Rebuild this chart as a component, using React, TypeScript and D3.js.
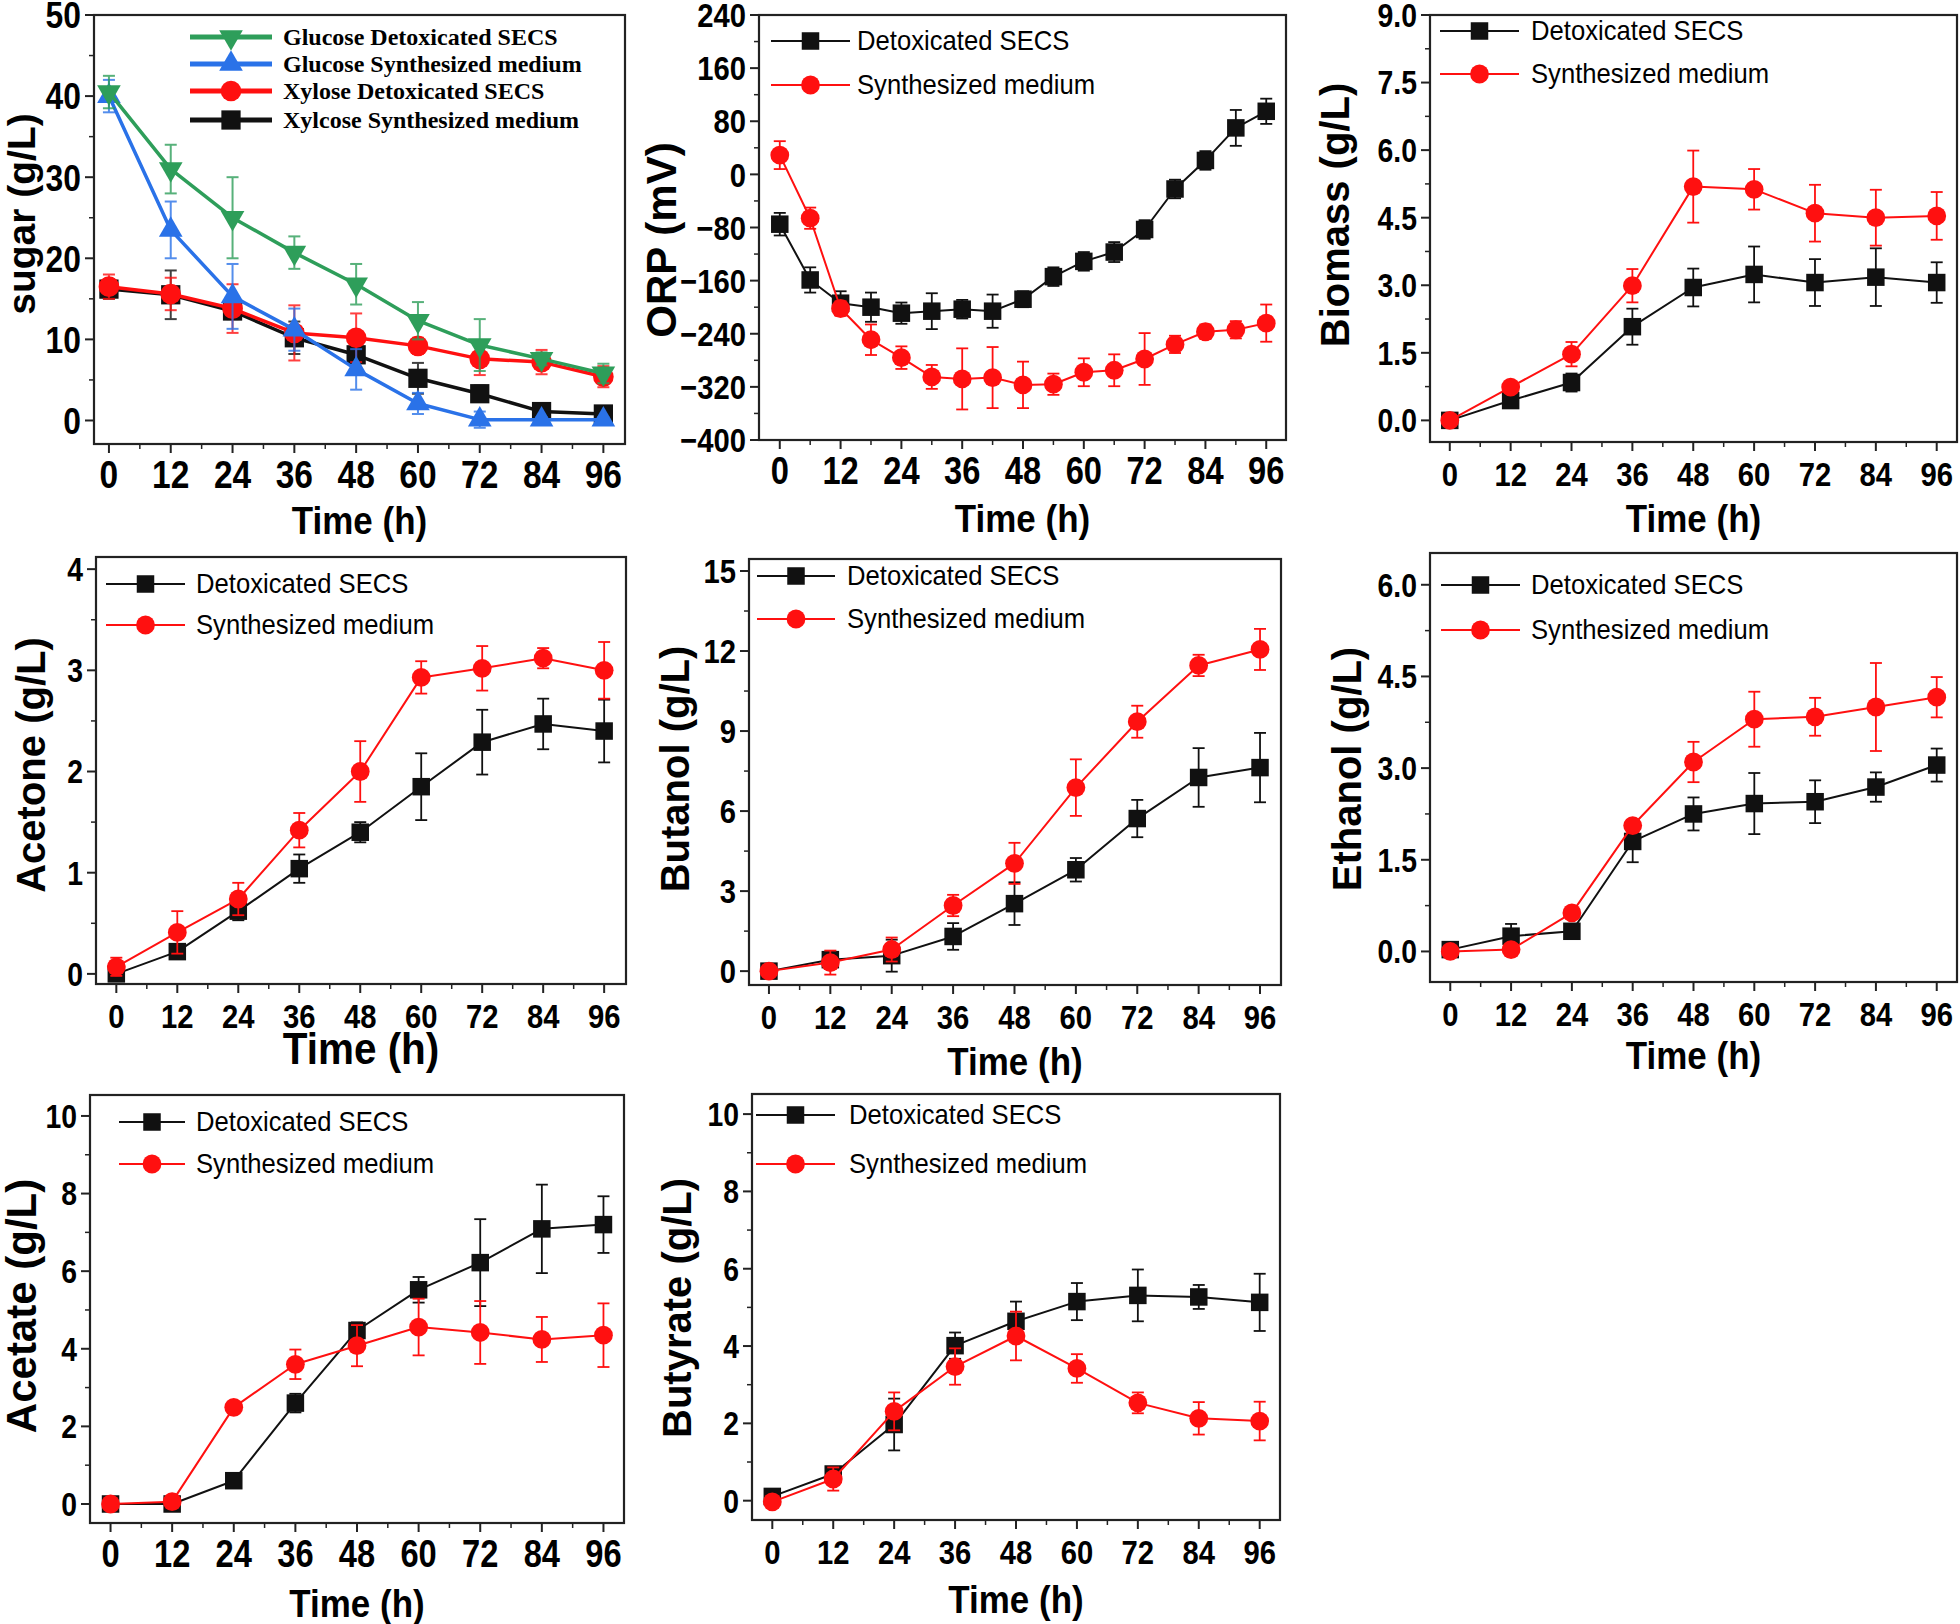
import React from 'react';
import * as d3 from 'd3';

// ---------------- DATA ----------------
const HOURS = [0, 12, 24, 36, 48, 60, 72, 84, 96];
const ORP_HOURS = [0, 6, 12, 18, 24, 30, 36, 42, 48, 54, 60, 66, 72, 78, 84, 90, 96];
const X_TICKS = [0, 12, 24, 36, 48, 60, 72, 84, 96];

const glucoseDetox = [40.5, 31, 25, 20.7, 16.8, 12.3, 9.3, 7.6, 5.8];
const glucoseDetoxErr = [2, 3, 5, 2, 2.5, 2.3, 3.2, 0.8, 1.2];
const glucoseSynth = [40, 23.5, 15.3, 11.2, 6.3, 2.1, 0.1, 0.1, 0.1];
const glucoseSynthErr = [2, 3.5, 4, 2.6, 2.5, 1.3, 1, 0.3, 0.3];
const xyloseDetox = [16.5, 15.6, 13.8, 10.8, 10.2, 9.2, 7.6, 7.2, 5.4];
const xyloseDetoxErr = [1.5, 2, 3, 3.4, 3, 1, 2, 1.5, 1.3];
const xyloseSynth = [16.2, 15.5, 13.5, 10.2, 8.1, 5.2, 3.3, 1.1, 0.8];
const xyloseSynthErr = [1.2, 3, 1, 2, 1, 1.9, 1, 0.9, 0.8];

const orpDetox = [-75, -159, -194, -200, -209, -206, -203, -206, -188, -154, -131, -117, -83, -22, 21, 70, 95];
const orpDetoxErr = [17, 19, 18, 22, 16, 27, 14, 25, 12, 14, 14, 15, 14, 14, 14, 27, 19];
const orpSynth = [29, -66, -202, -249, -276, -305, -308, -306, -317, -316, -298, -295, -278, -256, -237, -234, -224];
const orpSynthErr = [21, 16, 11, 23, 17, 18, 46, 46, 35, 16, 21, 24, 39, 13, 11, 13, 28];

const biomassDetox = [0, 0.44, 0.84, 2.08, 2.95, 3.24, 3.06, 3.18, 3.06];
const biomassDetoxErr = [0.05, 0.05, 0.2, 0.4, 0.42, 0.62, 0.52, 0.64, 0.45];
const biomassSynth = [0, 0.74, 1.47, 2.99, 5.19, 5.13, 4.6, 4.5, 4.54];
const biomassSynthErr = [0.05, 0.08, 0.27, 0.37, 0.8, 0.45, 0.63, 0.62, 0.53];

const acetoneDetox = [0, 0.22, 0.62, 1.04, 1.4, 1.85, 2.29, 2.47, 2.4];
const acetoneDetoxErr = [0.03, 0.03, 0.09, 0.14, 0.1, 0.33, 0.32, 0.25, 0.31];
const acetoneSynth = [0.07, 0.41, 0.74, 1.42, 2.0, 2.93, 3.02, 3.12, 3.0];
const acetoneSynthErr = [0.09, 0.21, 0.16, 0.17, 0.3, 0.16, 0.22, 0.1, 0.28];

const butanolDetox = [0, 0.43, 0.58, 1.3, 2.53, 3.8, 5.72, 7.26, 7.63];
const butanolDetoxErr = [0.1, 0.3, 0.6, 0.5, 0.8, 0.44, 0.7, 1.1, 1.3];
const butanolSynth = [0, 0.32, 0.81, 2.46, 4.04, 6.88, 9.35, 11.46, 12.06];
const butanolSynthErr = [0.1, 0.45, 0.45, 0.4, 0.77, 1.06, 0.6, 0.4, 0.77];

const ethanolDetox = [0.03, 0.25, 0.33, 1.8, 2.25, 2.42, 2.45, 2.69, 3.05];
const ethanolDetoxErr = [0.03, 0.2, 0.04, 0.34, 0.27, 0.5, 0.35, 0.24, 0.27];
const ethanolSynth = [0, 0.03, 0.63, 2.06, 3.1, 3.8, 3.84, 4.0, 4.16];
const ethanolSynthErr = [0.02, 0.02, 0.04, 0.08, 0.33, 0.45, 0.31, 0.72, 0.33];

const acetateDetox = [0, 0, 0.6, 2.6, 4.47, 5.52, 6.22, 7.09, 7.2];
const acetateDetoxErr = [0.03, 0.03, 0.03, 0.24, 0.21, 0.33, 1.12, 1.14, 0.73];
const acetateSynth = [0, 0.06, 2.49, 3.6, 4.08, 4.56, 4.42, 4.24, 4.35];
const acetateSynthErr = [0.03, 0.05, 0.03, 0.38, 0.53, 0.73, 0.81, 0.58, 0.82];

const butyrateDetox = [0.11, 0.69, 1.97, 4.01, 4.64, 5.15, 5.31, 5.27, 5.13];
const butyrateDetoxErr = [0.05, 0.1, 0.67, 0.34, 0.51, 0.48, 0.67, 0.31, 0.74];
const butyrateSynth = [-0.03, 0.56, 2.31, 3.47, 4.26, 3.42, 2.53, 2.13, 2.06];
const butyrateSynthErr = [0.05, 0.3, 0.49, 0.47, 0.63, 0.37, 0.27, 0.42, 0.5];

const SUGAR_TICKS = [0, 10, 20, 30, 40, 50];
const ORP_TICKS = [-400, -320, -240, -160, -80, 0, 80, 160, 240];
const BIOMASS_TICKS = [0, 1.5, 3, 4.5, 6, 7.5, 9];
const ACETONE_TICKS = [0, 1, 2, 3, 4];
const BUTANOL_TICKS = [0, 3, 6, 9, 12, 15];
const ETHANOL_TICKS = [0, 1.5, 3, 4.5, 6];
const ACID_TICKS = [0, 2, 4, 6, 8, 10];

const SUGAR_LEGEND = ['Glucose Detoxicated SECS', 'Glucose Synthesized medium', 'Xylose Detoxicated SECS', 'Xylcose Synthesized medium'];
const LEGEND = ['Detoxicated SECS', 'Synthesized medium'];

// ---------------- STYLE ----------------
const SANS = 'Arial, "Liberation Sans", Helvetica, sans-serif';
const SERIF = '"Times New Roman", "Liberation Serif", serif';
const RED = '#ff1010';
const BLACK = '#111111';
const GREEN = '#2e9e5a';
const BLUE = '#2a72e8';

type Marker = 'square' | 'circle' | 'up' | 'down';
interface Series { name: string; x: number[]; y: number[]; err: number[]; color: string; marker: Marker; }
interface PanelCfg {
  frame: [number, number, number, number];
  xDomain: [number, number];
  yDomain: [number, number];
  yTicks: number[];
  yMinor: number;
  yFmt: (v: number) => string;
  yTitle: string;
  yTitlePos: [number, number];
  yTitleSize: number;
  xTitleY: number;
  xTitleSize: number;
  tickSize: number;
  xTickSize: number;
  series: Series[];
  legend: { x1: number; x2: number; rows: number[]; tx: number; size: number; serif?: boolean; lw: number };
  lw: number;
  ms: number;
}

const f0 = d3.format('d');
const f1 = d3.format('.1f');

function two(xs: number[], d: number[], de: number[], s: number[], se: number[]): Series[] {
  return [
    { name: LEGEND[0], x: xs, y: d, err: de, color: BLACK, marker: 'square' },
    { name: LEGEND[1], x: xs, y: s, err: se, color: RED, marker: 'circle' },
  ];
}

const PANELS: PanelCfg[] = [
  {
    frame: [94, 15, 625, 444], xDomain: [-2.9, 100.2], yDomain: [-2.9, 50],
    yTicks: SUGAR_TICKS, yMinor: 5, yFmt: f0, yTitle: 'sugar (g/L)', yTitlePos: [35, 214], yTitleSize: 39,
    xTitleY: 534, xTitleSize: 38, tickSize: 37, xTickSize: 39, lw: 3.5, ms: 1.1,
    series: [
      { name: SUGAR_LEGEND[3], x: HOURS, y: xyloseSynth, err: xyloseSynthErr, color: BLACK, marker: 'square' },
      { name: SUGAR_LEGEND[2], x: HOURS, y: xyloseDetox, err: xyloseDetoxErr, color: RED, marker: 'circle' },
      { name: SUGAR_LEGEND[1], x: HOURS, y: glucoseSynth, err: glucoseSynthErr, color: BLUE, marker: 'up' },
      { name: SUGAR_LEGEND[0], x: HOURS, y: glucoseDetox, err: glucoseDetoxErr, color: GREEN, marker: 'down' },
    ],
    legend: { x1: 190, x2: 272, rows: [37, 64, 91, 120], tx: 283, size: 24, serif: true, lw: 5 },
  },
  {
    frame: [759, 15, 1286, 440], xDomain: [-4.1, 99.9], yDomain: [-400, 240],
    yTicks: ORP_TICKS, yMinor: 40, yFmt: f0, yTitle: 'ORP (mV)', yTitlePos: [676, 240], yTitleSize: 42,
    xTitleY: 532, xTitleSize: 38, tickSize: 34, xTickSize: 38, lw: 2, ms: 1,
    series: two(ORP_HOURS, orpDetox, orpDetoxErr, orpSynth, orpSynthErr),
    legend: { x1: 771, x2: 850, rows: [41, 85], tx: 857, size: 27, lw: 2 },
  },
  {
    frame: [1430, 15, 1957, 442], xDomain: [-3.9, 100], yDomain: [-0.48, 9],
    yTicks: BIOMASS_TICKS, yMinor: 0.75, yFmt: f1, yTitle: 'Biomass (g/L)', yTitlePos: [1349, 215], yTitleSize: 40,
    xTitleY: 532, xTitleSize: 38, tickSize: 33, xTickSize: 34, lw: 2, ms: 1,
    series: two(HOURS, biomassDetox, biomassDetoxErr, biomassSynth, biomassSynthErr),
    legend: { x1: 1440, x2: 1519, rows: [31, 74], tx: 1531, size: 27, lw: 2 },
  },
  {
    frame: [96, 557, 626, 984], xDomain: [-4, 100.3], yDomain: [-0.1, 4.12],
    yTicks: ACETONE_TICKS, yMinor: 0.5, yFmt: f0, yTitle: 'Acetone (g/L)', yTitlePos: [45, 765], yTitleSize: 40,
    xTitleY: 1064, xTitleSize: 44, tickSize: 33, xTickSize: 34, lw: 2, ms: 1,
    series: two(HOURS, acetoneDetox, acetoneDetoxErr, acetoneSynth, acetoneSynthErr),
    legend: { x1: 106, x2: 185, rows: [584, 625], tx: 196, size: 27, lw: 2 },
  },
  {
    frame: [749, 559, 1281, 985], xDomain: [-3.9, 100.1], yDomain: [-0.52, 15.45],
    yTicks: BUTANOL_TICKS, yMinor: 1.5, yFmt: f0, yTitle: 'Butanol (g/L)', yTitlePos: [689, 769], yTitleSize: 40,
    xTitleY: 1075, xTitleSize: 38, tickSize: 34, xTickSize: 34, lw: 2, ms: 1,
    series: two(HOURS, butanolDetox, butanolDetoxErr, butanolSynth, butanolSynthErr),
    legend: { x1: 757, x2: 835, rows: [576, 619], tx: 847, size: 27, lw: 2 },
  },
  {
    frame: [1430, 553, 1957, 982], xDomain: [-4, 100], yDomain: [-0.5, 6.52],
    yTicks: ETHANOL_TICKS, yMinor: 0.75, yFmt: f1, yTitle: 'Ethanol (g/L)', yTitlePos: [1361, 769], yTitleSize: 40,
    xTitleY: 1069, xTitleSize: 38, tickSize: 33, xTickSize: 34, lw: 2, ms: 1,
    series: two(HOURS, ethanolDetox, ethanolDetoxErr, ethanolSynth, ethanolSynthErr),
    legend: { x1: 1441, x2: 1520, rows: [585, 630], tx: 1531, size: 27, lw: 2 },
  },
  {
    frame: [90, 1095, 624, 1523], xDomain: [-4, 100], yDomain: [-0.49, 10.54],
    yTicks: ACID_TICKS, yMinor: 1, yFmt: f0, yTitle: 'Acetate (g/L)', yTitlePos: [36, 1306], yTitleSize: 42,
    xTitleY: 1617, xTitleSize: 38, tickSize: 33, xTickSize: 38, lw: 2, ms: 1,
    series: two(HOURS, acetateDetox, acetateDetoxErr, acetateSynth, acetateSynthErr),
    legend: { x1: 119, x2: 185, rows: [1122, 1164], tx: 196, size: 27, lw: 2 },
  },
  {
    frame: [752, 1094, 1280, 1520], xDomain: [-4, 100], yDomain: [-0.5, 10.52],
    yTicks: ACID_TICKS, yMinor: 1, yFmt: f0, yTitle: 'Butyrate (g/L)', yTitlePos: [691, 1308], yTitleSize: 40,
    xTitleY: 1613, xTitleSize: 38, tickSize: 33, xTickSize: 34, lw: 2, ms: 1,
    series: two(HOURS, butyrateDetox, butyrateDetoxErr, butyrateSynth, butyrateSynthErr),
    legend: { x1: 756, x2: 835, rows: [1115, 1164], tx: 849, size: 27, lw: 2 },
  },
];

// ---------------- RENDER ----------------
function Txt(p: { x: number; y: number; size: number; sx?: number; anchor?: string; weight?: string | number; family?: string; rotate?: number; fill?: string; children: React.ReactNode }) {
  const { x, y, size, sx = 1, anchor = 'start', weight = 'bold', family = SANS, rotate = 0, fill = '#000' } = p;
  return (
    <text transform={`translate(${x},${y}) rotate(${rotate}) scale(${sx},1)`} fontSize={size} fontWeight={weight}
      fontFamily={family} textAnchor={anchor as any} fill={fill}>{p.children}</text>
  );
}

function MarkerShape({ m, cx, cy, color, scale }: { m: Marker; cx: number; cy: number; color: string; scale: number }) {
  if (m === 'square') {
    const s = 17.5 * scale;
    return <rect x={cx - s / 2} y={cy - s / 2} width={s} height={s} fill={color} />;
  }
  if (m === 'circle') return <circle cx={cx} cy={cy} r={9.4 * scale} fill={color} />;
  const path = d3.symbol().type(d3.symbolTriangle).size(200 * scale * scale)() as string;
  return <path d={path} transform={`translate(${cx},${cy}) rotate(${m === 'down' ? 180 : 0})`} fill={color} />;
}

function Panel({ c }: { c: PanelCfg }) {
  const [l, t, r, b] = c.frame;
  const x = d3.scaleLinear().domain(c.xDomain).range([l, r]);
  const y = d3.scaleLinear().domain(c.yDomain).range([b, t]);
  const line = d3.line<number>();
  const xMinor = d3.range(6, 96, 12);
  const yMinor = d3.range(c.yTicks[0] - c.yMinor, c.yTicks[c.yTicks.length - 1] + c.yMinor * 1.01, c.yMinor)
    .filter(v => v >= c.yDomain[0] && v <= c.yDomain[1] && !c.yTicks.some(tk => Math.abs(tk - v) < 1e-6));
  const axisCol = '#222';
  const cap = 6;
  const ls = c.legend;
  const legendSeries = c.series.length === 4 ? [c.series[3], c.series[2], c.series[1], c.series[0]] : c.series;
  return (
    <g>
      {/* ticks */}
      {c.yTicks.map(v => <line key={'yt' + v} x1={l - 9} x2={l} y1={y(v)} y2={y(v)} stroke={axisCol} strokeWidth={2} />)}
      {yMinor.map(v => <line key={'ym' + v} x1={l - 5} x2={l} y1={y(v)} y2={y(v)} stroke={axisCol} strokeWidth={1.5} />)}
      {X_TICKS.map(v => <line key={'xt' + v} x1={x(v)} x2={x(v)} y1={b} y2={b + 9} stroke={axisCol} strokeWidth={2} />)}
      {xMinor.map(v => <line key={'xm' + v} x1={x(v)} x2={x(v)} y1={b} y2={b + 5} stroke={axisCol} strokeWidth={1.5} />)}
      {/* tick labels */}
      {c.yTicks.map(v => (
        <Txt key={'yl' + v} x={l - 13} y={y(v) + c.tickSize * 0.36} size={c.tickSize} sx={0.86} anchor="end">{c.yFmt(v)}</Txt>
      ))}
      {X_TICKS.map(v => (
        <Txt key={'xl' + v} x={x(v)} y={b + 44} size={c.xTickSize} sx={0.86} anchor="middle">{f0(v)}</Txt>
      ))}
      {/* titles */}
      <Txt x={(l + r) / 2} y={c.xTitleY} size={c.xTitleSize} sx={0.92} anchor="middle">Time (h)</Txt>
      <Txt x={c.yTitlePos[0]} y={c.yTitlePos[1]} size={c.yTitleSize} anchor="middle" rotate={-90}>{c.yTitle}</Txt>
      {/* series */}
      {c.series.map((s, si) => (
        <g key={'s' + si}>
          <path d={line(s.x.map((xx, i) => [x(xx), y(s.y[i])]) as any) as string} fill="none" stroke={s.color} strokeWidth={c.lw} strokeLinejoin="round" />
          {s.x.map((xx, i) => (
            <g key={'e' + i} stroke={s.color} strokeWidth={c.lw > 3 ? 2 : 1.8} opacity={c.lw > 3 ? 0.8 : 1}>
              <line x1={x(xx)} x2={x(xx)} y1={y(s.y[i] - s.err[i])} y2={y(s.y[i] + s.err[i])} />
              <line x1={x(xx) - cap} x2={x(xx) + cap} y1={y(s.y[i] - s.err[i])} y2={y(s.y[i] - s.err[i])} />
              <line x1={x(xx) - cap} x2={x(xx) + cap} y1={y(s.y[i] + s.err[i])} y2={y(s.y[i] + s.err[i])} />
            </g>
          ))}
          {s.x.map((xx, i) => <MarkerShape key={'m' + i} m={s.marker} cx={x(xx)} cy={y(s.y[i])} color={s.color} scale={c.ms} />)}
        </g>
      ))}
      {/* legend */}
      {legendSeries.map((s, i) => (
        <g key={'lg' + i}>
          <line x1={ls.x1} x2={ls.x2} y1={ls.rows[i]} y2={ls.rows[i]} stroke={s.color} strokeWidth={ls.lw} />
          <MarkerShape m={s.marker} cx={(ls.x1 + ls.x2) / 2} cy={ls.rows[i]} color={s.color} scale={c.ms} />
          <Txt x={ls.tx} y={ls.rows[i] + ls.size * 0.35} size={ls.size} weight={ls.serif ? 'bold' : 'normal'} family={ls.serif ? SERIF : SANS} sx={ls.serif ? 1 : 0.95}>{s.name}</Txt>
        </g>
      ))}
      {/* frame */}
      <rect x={l} y={t} width={r - l} height={b - t} fill="none" stroke={axisCol} strokeWidth={2.2} />
    </g>
  );
}

export default function App() {
  return (
    <svg width={1960} height={1624} viewBox="0 0 1960 1624" style={{ position: 'absolute', left: 0, top: 0, background: '#fff' }}>
      <rect x={0} y={0} width={1960} height={1624} fill="#fff" />
      {PANELS.map((c, i) => <Panel key={i} c={c} />)}
    </svg>
  );
}
